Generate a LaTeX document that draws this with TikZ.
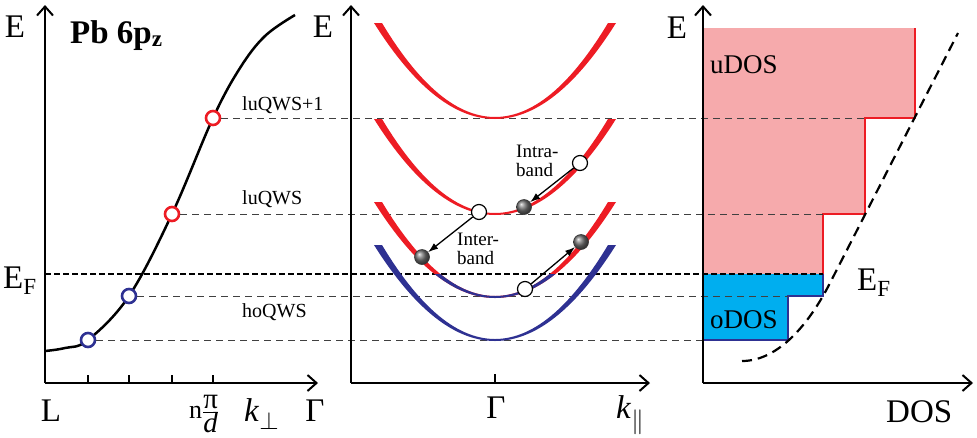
\documentclass[tikz,border=0pt]{standalone}
\usepackage{fontspec}
\setmainfont{Liberation Serif}
\usepackage{tikz}
\usetikzlibrary{arrows.meta}

\definecolor{bandred}{RGB}{237,28,36}
\definecolor{bandblue}{RGB}{46,49,146}
\definecolor{udos}{RGB}{246,170,172}
\definecolor{odos}{RGB}{0,174,239}

% tapered parabola band around Gamma, #1 = minimum, #2 = colour
\newcommand{\bandfill}[2]{%
  \fill[#2] plot[domain=-121:121,samples=61] ({495+\x},{#1+1-96*(\x/121)*(\x/121)})
    -- plot[domain=113:-113,samples=61] ({495+\x},{#1-1-94*(\x/113)*(\x/113)}) -- cycle;}

\begin{document}
\begin{tikzpicture}[x=1pt, y=-1pt,
    axisline/.style={line width=2pt, -{Straight Barb[length=9pt,width=16pt,line width=2pt]}},
    qwsline/.style={dash pattern=on 7pt off 5pt, line width=1pt, black!75},
    efline/.style={dash pattern=on 6pt off 3pt, line width=2.2pt},
    qwsdot/.style={circle, draw=#1, line width=2.6pt, fill=white, minimum size=14pt, inner sep=0pt},
    holedot/.style={circle, draw, line width=1.2pt, fill=white, minimum size=15pt, inner sep=0pt},
    eldot/.style={circle, draw=black!80, line width=0.6pt, shading=ball, ball color=black!55, minimum size=15pt, inner sep=0pt},
    transarrow/.style={-{Latex[length=10pt,width=7pt]}, line width=1.3pt},
    biglbl/.style={font=\fontsize{33}{36}\selectfont, inner sep=0pt},
    smalllbl/.style={font=\fontsize{20}{19}\selectfont, inner sep=0pt},
    banlbl/.style={font=\fontsize{19}{19.5}\selectfont, inner sep=0pt},
    doslbl/.style={font=\fontsize{27}{30}\selectfont, inner sep=0pt}
]
\useasboundingbox (0,0) rectangle (977,437);

\fill[udos] (703,28) -- (915,28) -- (915,118) -- (865,118) -- (865,214) -- (823,214) -- (823,274) -- (703,274) -- cycle;
\fill[odos] (703,274) -- (823,274) -- (823,296) -- (788,296) -- (788,340) -- (703,340) -- cycle;
\draw[bandred, line width=2.5pt] (915,28) -- (915,118) -- (865,118) -- (865,214) -- (823,214) -- (823,274);
\draw[bandblue, line width=2.5pt] (823,274) -- (823,296) -- (788,296) -- (788,340) -- (703,340);
\draw[line width=2.2pt, dash pattern=on 10pt off 6pt] (742,361) .. controls (775,361) and (806,330) .. (830,283) -- (958,33);

\draw[line width=2.5pt] plot[smooth, tension=0.6] coordinates {(45,351) (65,348) (88,340) (129,296) (172,214) (213,118) (240,68) (265,36) (295,15)};
\node[qwsdot=bandblue] (s1) at (88,340) {};
\node[qwsdot=bandblue] (s2) at (129,296) {};
\node[qwsdot=bandred] (s3) at (172,214) {};
\node[qwsdot=bandred] (s4) at (213,118) {};

\coordinate (e1) at (703,340);
\coordinate (e2) at (788,296);
\coordinate (e3) at (823,214);
\coordinate (e4) at (865,118);
\coordinate (f0) at (45,274);
\coordinate (f1) at (823,274);
\draw[qwsline] (s1.east) -- (e1);
\draw[qwsline] (s2.east) -- (e2);
\draw[qwsline] (s3.east) -- (e3);
\draw[qwsline] (s4.east) -- (e4);
\draw[efline] (f0) -- (f1);

\bandfill{118}{bandred}
\bandfill{214}{bandred}
\bandfill{297}{bandred}
\begin{scope}
  \clip (352,274) rectangle (650,320);
  \bandfill{297}{bandblue}
\end{scope}
\bandfill{340}{bandblue}

\coordinate (o1) at (45,383);
\coordinate (o2) at (351,383);
\coordinate (o3) at (703,383);
\draw[axisline] (o1) -- (45,5);
\draw[axisline] (o1) -- (318,383);
\draw[axisline] (o2) -- (351,5);
\draw[axisline] (o2) -- (650,383);
\draw[axisline] (o3) -- (703,5);
\draw[axisline] (o3) -- (973,383);
\foreach \t in {88,129,172,213}
  \draw[line width=1.5pt] (\t,383) -- (\t,375);
\draw[line width=1.5pt] (495,383) -- (495,374);

\node[holedot] (h1) at (580,163) {};
\node[eldot] (el1) at (524,207) {};
\node[holedot] (h2) at (479,212) {};
\node[eldot] (el2) at (422,257) {};
\node[holedot] (h3) at (525,289) {};
\node[eldot] (el3) at (581,242) {};
\draw[transarrow] (h1) -- (el1);
\draw[transarrow] (h2) -- (el2);
\draw[transarrow] (h3) -- (el3);
\node[banlbl, anchor=west, align=left] (intra) at (516,161) {Intra-\\band};
\node[banlbl, anchor=west, align=left] (inter) at (457,249) {Inter-\\band};

\node[biglbl] (E1) at (15,27) {E};
\node[biglbl, anchor=base west, font=\fontsize{33}{36}\selectfont\bfseries] (pb) at (70,43) {Pb 6p\textsubscript{z}};
\node[smalllbl, anchor=base west] (lu1) at (242,110) {luQWS+1};
\node[smalllbl, anchor=base west] (lu0) at (242,204) {luQWS};
\node[smalllbl, anchor=base west] (ho) at (242,317) {hoQWS};
\node[biglbl, anchor=base west] (EF1) at (3,288) {E\textsubscript{F}};
\node[biglbl, anchor=base] (L) at (51,421) {L};
\node[biglbl, anchor=base west, font=\fontsize{26}{28}\selectfont] (npd) at (189,418)
  {n$\frac{\mbox{\fontsize{29}{29}\selectfont π}}{\mbox{\fontsize{29}{29}\selectfont\itshape d}}$};
\node[biglbl, anchor=base west] (kp) at (244,421) {\textit{k}$_\perp$};
\node[biglbl, anchor=base] (G1) at (315,421) {Γ};

\node[biglbl] (E2) at (323,27) {E};
\node[biglbl, anchor=base] (G2) at (496,418) {Γ};
\node[biglbl, anchor=base west] (kpar) at (616,418) {\textit{k}$_\parallel$};

\node[biglbl] (E3) at (677,28) {E};
\node[doslbl, anchor=base west] (udosl) at (710,73) {uDOS};
\node[doslbl, anchor=base west] (odosl) at (710,328) {oDOS};
\node[biglbl, anchor=base west] (EF3) at (857,290) {E\textsubscript{F}};
\node[biglbl, anchor=base west] (dosl) at (886,422) {DOS};
\end{tikzpicture}
\end{document}
